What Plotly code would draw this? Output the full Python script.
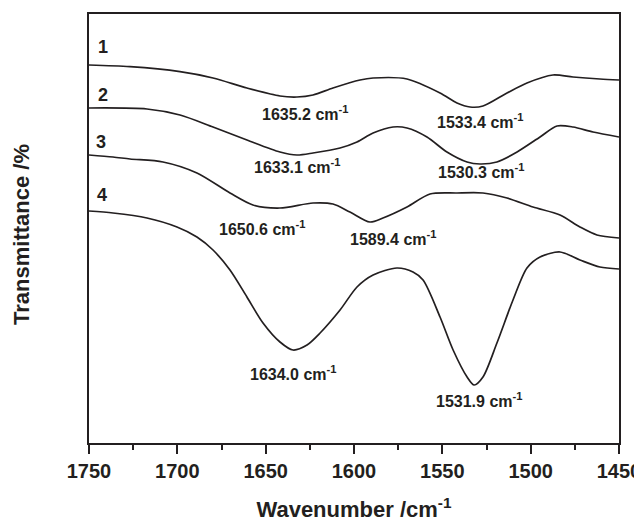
import plotly.graph_objects as go

# ---- data (wavenumber in cm-1, transmittance in arbitrary offset units)
wn1 = [1750, 1726.8, 1698.5, 1679.8, 1660.6, 1641.9, 1632.3, 1623.2, 1611.9, 1596.6, 1589.2, 1570,
       1551.3, 1541.7, 1534.3, 1527, 1513.4, 1502.1, 1487.4, 1476, 1460.8, 1450]
t1 = [378, 376.3, 371.3, 365, 355, 347, 346, 348, 355, 363, 365, 364,
      350, 340, 336, 337, 350, 360, 368, 366, 364, 363]

wn2 = [1750, 1717.2, 1698.5, 1679.8, 1660.6, 1641.9, 1632.3, 1623.2, 1607.9, 1598.3, 1589.2, 1577.9,
       1570, 1558.7, 1547.4, 1536, 1528.7, 1519.1, 1507.7, 1494.7, 1485.1, 1476, 1464.7, 1450]
t2 = [335, 334, 328, 316, 303, 291, 288, 290, 295, 301, 310, 316,
      315, 306, 291, 281, 279, 281, 291, 306, 317, 316, 311, 306]

wn3 = [1750, 1736.4, 1726.8, 1708.1, 1688.9, 1670.2, 1657.2, 1641.9, 1623.2, 1611.9, 1602.3, 1591,
       1583.6, 1570, 1557, 1541.7, 1527, 1513.4, 1498.7, 1483.4, 1472.1, 1462.5, 1450]
t3 = [288, 286, 284, 281, 270, 250, 238, 235, 240, 239, 231, 221,
      225, 236, 249, 250, 250, 245, 236, 228, 216, 208, 205]

wn4 = [1750, 1736.4, 1717.2, 1700.2, 1688.9, 1679.8, 1670.2, 1660.6, 1651.5, 1641.9, 1634.5, 1626.6,
       1619.2, 1607.9, 1598.3, 1589.2, 1575.7, 1566.6, 1560.9, 1551.3, 1543.9, 1536, 1532, 1527,
       1519.1, 1510, 1502.1, 1494.7, 1483.4, 1472.1, 1460.8, 1450]
t4 = [232, 230, 225, 216, 206, 193, 173, 146, 120, 101, 93, 98,
      110, 133, 156, 168, 175, 171, 163, 126, 93, 66, 58, 66,
      100, 143, 175, 186, 191, 183, 176, 174]

curve_names = ["1", "2", "3", "4"]
name_x = [1742, 1742, 1743, 1742.5]
name_y = [396, 348, 301, 248]

peak_text = ["1635.2", "1533.4", "1633.1", "1530.3", "1650.6", "1589.4", "1634.0", "1531.9"]
peak_x = [1627.7, 1528.7, 1632.3, 1528.1, 1652.1, 1577.9, 1634.5, 1529.3]
peak_y = [330, 322, 277, 272, 215, 205, 70, 43]

x_ticks = [1750, 1700, 1650, 1600, 1550, 1500, 1450]

FONT = "Liberation Sans, Arial, sans-serif"
INK = "#231f20"

fig = go.Figure()
for wn, t in [(wn1, t1), (wn2, t2), (wn3, t3), (wn4, t4)]:
    fig.add_trace(go.Scatter(x=wn, y=t, mode="lines",
                             line=dict(color=INK, width=1.7, shape="spline", smoothing=0.8),
                             showlegend=False, hoverinfo="skip"))

for n, x, y in zip(curve_names, name_x, name_y):
    fig.add_annotation(x=x, y=y, text=n, showarrow=False, xanchor="center", yanchor="middle",
                       font=dict(family=FONT, size=18, color=INK, weight="bold"))

for s, x, y in zip(peak_text, peak_x, peak_y):
    fig.add_annotation(x=x, y=y, text=s + " cm<sup>-1</sup>", showarrow=False,
                       xanchor="center", yanchor="middle",
                       font=dict(family=FONT, size=16, color=INK, weight="bold"))

# y-axis title (placed as a rotated annotation so it can sit slightly below centre)
fig.add_annotation(xref="paper", yref="paper", x=0, y=0.485, xshift=-67,
                   text="Transmittance /%", textangle=-90, showarrow=False,
                   xanchor="center", yanchor="middle",
                   font=dict(family=FONT, size=22, color=INK, weight="bold"))

# the page body adds an 8px offset, so the figure is drawn 8px smaller
fig.update_layout(
    width=634, height=514,
    margin=dict(l=81, r=23, t=6, b=79),
    paper_bgcolor="white", plot_bgcolor="white",
    font=dict(family=FONT, color=INK),
)
fig.update_xaxes(
    range=[1750, 1450], tickvals=x_ticks, ticks="outside", ticklen=9, tickwidth=2,
    tickcolor=INK, showgrid=False, zeroline=False, showline=True, mirror=True,
    linecolor=INK, linewidth=2, automargin=False,
    tickfont=dict(family=FONT, size=20, color=INK, weight="bold"),
    minor=dict(dtick=25, tick0=1450, ticks="outside", ticklen=5, tickwidth=1.5, tickcolor=INK, showgrid=False),
    title=dict(text="Wavenumber /cm<sup>-1</sup>", standoff=31,
               font=dict(family=FONT, size=22, color=INK, weight="bold")),
)
fig.update_yaxes(
    range=[0, 429], showticklabels=False, ticks="", showgrid=False, zeroline=False,
    showline=True, mirror=True, linecolor=INK, linewidth=2, automargin=False,
)

fig.write_html("out.html")
